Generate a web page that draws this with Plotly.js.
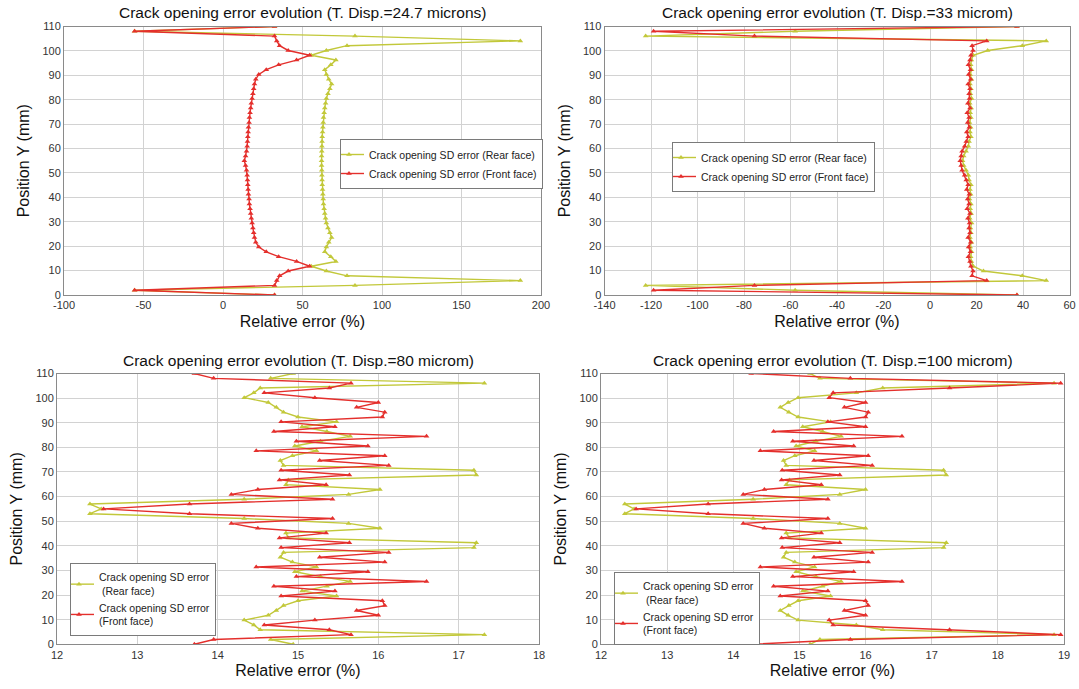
<!DOCTYPE html>
<html><head><meta charset="utf-8">
<script src="https://cdn.plot.ly/plotly-3.0.1.min.js"></script>
<style>html,body{margin:0;padding:0;background:#fff}#chart{width:1079px;height:689px}</style>
</head><body><div id="chart"></div>
<script>
// Position along the crack (mm), shared by every series
const positionY = [0,1.96,3.93,5.89,7.86,9.82,11.79,13.75,15.71,17.68,19.64,21.61,23.57,25.54,27.5,29.46,31.43,33.39,35.36,37.32,39.29,41.25,43.21,45.18,47.14,49.11,51.07,53.04,55,56.96,58.93,60.89,62.86,64.82,66.79,68.75,70.71,72.68,74.64,76.61,78.57,80.54,82.5,84.46,86.43,88.39,90.36,92.32,94.29,96.25,98.21,100.18,102.14,104.11,106.07,108.04,110];

// Panel 1: T. Disp. = 24.7 microns
const rear247  = [32.4,-55.6,83,187,78,65,55.5,71,67.8,64,65,66.5,68.3,67.2,66,65,64.5,64,63.6,63.2,63,62.8,62.6,62.4,62.3,62.2,62.1,62,62,62,62.1,62.2,62.3,62.4,62.6,62.8,63,63.2,63.6,64,64.5,65,66,67.2,68.3,66.5,65,64,67.8,71,55.5,65,78,187,83,-55.6,32.4];
const front247 = [32.4,-55.6,32.4,33.8,35.6,41,54.5,46.3,35,27.2,22.5,20.6,19.8,19.3,18.8,18.3,17.8,17.4,17.0,16.6,16.4,16.0,15.8,15.6,15.4,15.2,14.8,14.2,13.4,14.2,14.8,15.2,15.4,15.6,15.8,16.0,16.4,16.6,17.0,17.4,17.8,18.3,18.8,19.3,19.8,20.6,22.5,27.2,35,46.3,54.5,41,35.6,33.8,32.4,-55.6,32.4];

// Panel 2: T. Disp. = 33 microm
const rear33  = [37.4,-58,-122.3,50,39.7,23,18.6,17.8,17.5,17.9,17.3,17.8,17.2,17.6,17.4,17.9,17.1,17.7,17.3,17.6,17.0,17.5,17.2,17.6,16.8,16.5,15.5,14.5,14.0,14.5,15.5,16.5,16.8,17.6,17.2,17.5,17.0,17.6,17.3,17.7,17.1,17.9,17.4,17.6,17.2,17.8,17.3,17.9,17.5,17.8,18.6,24.8,39.7,50,-122.3,-58,37.4];
const front33 = [37.4,-118.9,-75.5,24.4,18.1,18.5,17.6,17.2,16.5,17.4,16.6,17.5,16.4,17.2,16.8,17.0,16.3,17.2,16.0,16.8,16.2,16.9,15.8,16.4,15.6,14.9,13.8,13.4,13.0,13.4,13.8,14.9,15.6,16.4,15.8,16.9,16.2,16.8,16.0,17.2,16.3,17.0,16.8,17.2,16.4,17.5,16.6,17.4,16.5,17.2,17.6,18.5,18.1,24.4,-75.5,-118.9,37.4];

// Panel 3: T. Disp. = 80 microm
const rear80  = [14.94,14.66,17.32,14.53,14.45,14.33,14.63,14.73,14.82,15.0,15.48,15.05,15.36,15.65,15.28,14.96,15.23,14.93,14.78,14.82,17.19,17.22,14.88,14.85,16.02,15.63,14.33,12.41,12.55,12.41,14.33,15.63,16.02,14.85,14.88,17.22,17.19,14.82,14.78,14.93,15.23,14.96,15.28,15.65,15.36,15.05,15.48,15.0,14.82,14.73,14.63,14.33,14.45,14.53,17.32,14.66,14.94];
const front80 = [13.71,13.95,15.66,15.39,14.58,15.21,16.0,15.73,16.08,16.05,14.79,15.46,14.70,16.6,14.98,15.87,14.48,16.08,15.27,16.13,14.79,15.64,14.77,15.35,14.5,14.17,15.43,13.65,12.58,13.65,15.43,14.17,14.5,15.35,14.77,15.64,14.79,16.13,15.27,16.08,14.48,15.87,14.98,16.6,14.70,15.46,14.79,16.05,16.08,15.73,16.0,15.21,14.58,15.39,15.66,13.95,13.71];

// Panel 4: T. Disp. = 100 microm
const rear100  = [15.16,15.31,18.85,16.26,15.86,14.98,14.83,14.71,14.84,14.98,15.47,15.05,15.35,15.63,15.25,14.95,15.23,14.93,14.76,14.8,17.18,17.22,14.85,14.8,16.0,15.61,14.3,12.36,12.5,12.36,14.3,15.61,16.0,14.8,14.85,17.22,17.18,14.8,14.76,14.93,15.23,14.95,15.25,15.63,15.35,15.05,15.47,14.98,14.84,14.71,14.83,14.98,15.86,16.26,18.85,15.31,15.16];
const front100 = [14.27,15.77,18.95,17.27,15.51,15.45,16.0,15.68,16.04,16.0,14.71,15.43,14.61,16.55,14.9,15.82,14.41,16.04,15.22,16.1,14.74,15.61,14.73,15.33,14.47,14.15,15.43,13.62,12.53,13.62,15.43,14.15,14.47,15.33,14.73,15.61,14.74,16.1,15.22,16.04,14.41,15.82,14.9,16.55,14.61,16.0,15.43,16.0,16.04,15.68,16.0,15.45,15.51,17.27,18.95,15.77,14.27];

// Titles and tick labels
const panelTitles = ["Crack opening error evolution (T. Disp.=24.7 microns)","Crack opening error evolution (T. Disp.=33 microm)","Crack opening error evolution (T. Disp.=80 microm)","Crack opening error evolution (T. Disp.=100 microm)"];
const rearName = "Crack opening SD error (Rear face)";
const frontName = "Crack opening SD error (Front face)";
const rearNameWrapped = "Crack opening SD error<br> (Rear face)";
const frontNameWrapped = "Crack opening SD error<br>(Front face)";
const xTicks1 = [-100,-50,0,50,100,150,200];
const xTickText1 = ["-100","-50","0","50","100","150","200"];
const xTicks2 = [-140,-120,-100,-80,-60,-40,-20,0,20,40,60];
const xTickText2 = ["-140","-120","-100","-80","-60","-40","-20","0","20","40","60"];
const xTicks3 = [12,13,14,15,16,17,18];
const xTicks4 = [12,13,14,15,16,17,18,19];
const yTicks = [0,10,20,30,40,50,60,70,80,90,100,110];

const W = 1079, H = 689;
const YEL = '#c2c83a', RED = '#e42f2c';
const FONT = 'Liberation Sans, Arial, sans-serif';

function px2x(a,b){return [a/W,b/W];}
function px2y(top,bottom){return [1-bottom/H,1-top/H];}

function tr(x,name,color,ax,leg){
  return {x:x,y:positionY,type:'scatter',mode:'lines+markers',name:name,
    xaxis:'x'+ax,yaxis:'y'+ax,legend:leg,
    line:{color:color,width:1.4},marker:{symbol:'triangle-up',size:5,color:color}};
}
const data = [
  tr(rear247,rearName,YEL,'','legend'), tr(front247,frontName,RED,'','legend'),
  tr(rear33,rearName,YEL,'2','legend2'), tr(front33,frontName,RED,'2','legend2'),
  tr(rear80,rearNameWrapped,YEL,'3','legend3'), tr(front80,frontNameWrapped,RED,'3','legend3'),
  tr(rear100,rearNameWrapped,YEL,'4','legend4'), tr(front100,frontNameWrapped,RED,'4','legend4')
];

function xa(dom,range,tv,tt,anchor){
  const o={domain:dom,range:range,tickvals:tv,anchor:anchor,showline:true,mirror:true,linecolor:'#8a8a8a',linewidth:1,
    showgrid:true,gridcolor:'#d2d2d2',zeroline:false,ticks:'',tickfont:{size:11,color:'#333',family:FONT},
    title:{text:'Relative error (%)',font:{size:16,color:'#111',family:FONT},standoff:5},automargin:false};
  if(tt) o.ticktext=tt;
  return o;
}
function ya(dom,anchor){
  return {domain:dom,range:[0,110],tickvals:yTicks,anchor:anchor,showline:true,mirror:true,linecolor:'#8a8a8a',linewidth:1,
    showgrid:true,gridcolor:'#d2d2d2',zeroline:false,ticks:'',tickfont:{size:11,color:'#333',family:FONT},
    title:{text:'Position Y (mm)',font:{size:16,color:'#111',family:FONT},standoff:8},automargin:false};
}
const legBase = {bgcolor:'#fff',bordercolor:'#7a7a7a',borderwidth:1,font:{size:10.5,color:'#222',family:FONT},
  xanchor:'left',yanchor:'top',itemwidth:30,tracegroupgap:0,indentation:-12};

const layout = {
  width:W,height:H,margin:{l:0,r:0,t:0,b:0},paper_bgcolor:'#fff',plot_bgcolor:'#fff',
  font:{family:FONT},showlegend:true,
  xaxis: xa(px2x(64,541),[-100,200],xTicks1,xTickText1,'y'),
  yaxis: ya(px2y(26.5,295),'x'),
  xaxis2: xa(px2x(604.5,1069.5),[-140,60],xTicks2,xTickText2,'y2'),
  yaxis2: ya(px2y(26.5,295),'x2'),
  xaxis3: xa(px2x(57,539),[12,18],xTicks3,null,'y3'),
  yaxis3: ya(px2y(373.5,644.3),'x3'),
  xaxis4: xa(px2x(601,1064),[12,19],xTicks4,null,'y4'),
  yaxis4: ya(px2y(373.5,644.3),'x4'),
  legend: Object.assign({},legBase,{x:340/W,y:1-139/H}),
  legend2: Object.assign({},legBase,{x:672/W,y:1-142/H}),
  legend3: Object.assign({},legBase,{x:70/W,y:1-563/H}),
  legend4: Object.assign({},legBase,{x:614/W,y:1-572/H}),
  annotations: [
    {text:panelTitles[0],x:302.5/W,y:1-13/H},
    {text:panelTitles[1],x:837/W,y:1-13/H},
    {text:panelTitles[2],x:298/W,y:1-360/H},
    {text:panelTitles[3],x:832.5/W,y:1-360/H}
  ].map(a=>Object.assign(a,{xref:'paper',yref:'paper',xanchor:'center',yanchor:'middle',showarrow:false,
    font:{size:15.5,color:'#111',family:FONT}}))
};
Plotly.newPlot('chart',data,layout,{displayModeBar:false,staticPlot:true});
</script></body></html>
